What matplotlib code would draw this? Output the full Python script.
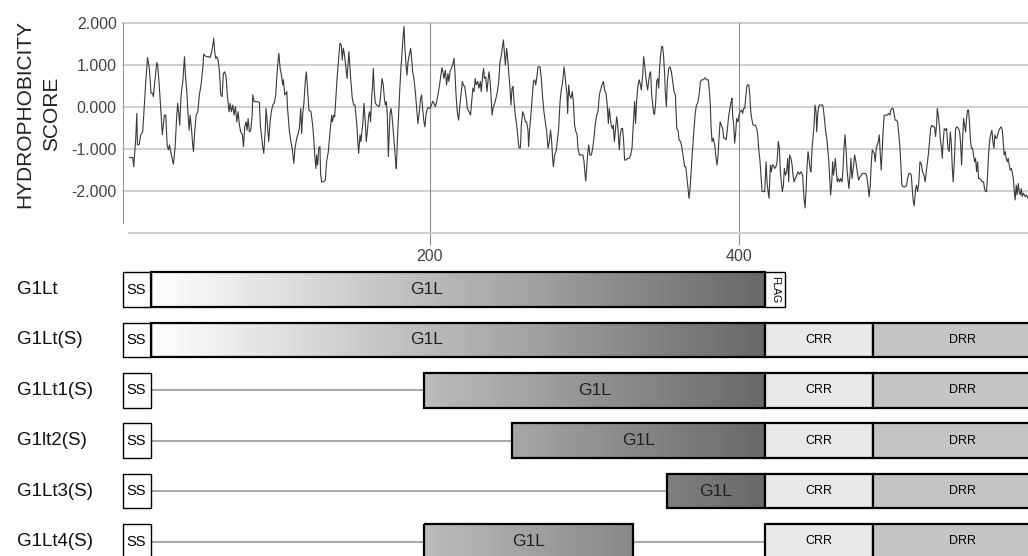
import numpy as np
import matplotlib.pyplot as plt
from matplotlib.patches import Rectangle
from matplotlib.colors import LinearSegmentedColormap
from matplotlib.transforms import blended_transform_factory

plt.rcParams['font.family'] = ['Liberation Sans', 'DejaVu Sans']
plt.rcParams['axes.unicode_minus'] = False

# hydrophobicity profile, (residue, score) pairs
hydro_a = [(6.0, -1.21), (8.2, -1.21), (8.8, -1.43), (10.1, -0.75), (10.8, -0.16), (11.2, -0.91), (12.3, -0.90),
           (13.3, -0.67), (14.6, -0.60), (15.5, -0.04), (16.6, 0.60), (17.7, 1.17), (18.9, 0.91), (20.0, 0.32),
           (20.9, 0.32), (21.5, 0.24), (22.4, 0.60), (23.7, 1.05), (24.3, 0.99), (25.4, 0.44), (26.5, -0.20),
           (27.3, -0.67), (28.6, -0.20), (29.5, -0.20), (30.4, -0.91), (31.2, -1.03), (31.9, -0.91), (32.7, -1.07),
           (33.8, -1.27), (34.4, -1.37), (35.5, -0.99), (36.6, -0.20), (37.2, 0.08), (37.9, -0.16), (38.5, -0.44),
           (39.4, 0.28), (40.5, 0.60), (41.6, 1.19), (42.2, 0.75), (43.1, 0.36), (43.9, -0.20), (44.6, -0.56),
           (45.2, -0.20), (46.1, -0.52), (46.9, -0.91), (47.4, -1.07), (48.2, -0.60), (49.1, -0.20), (50.2, -0.12),
           (51.2, 0.28), (52.3, 0.52), (53.4, 0.91), (54.0, 1.25), (54.9, 1.21), (56.0, 1.19), (57.1, 1.19),
           (58.1, 1.17), (59.0, 1.27), (59.9, 1.47), (60.5, 1.63), (61.1, 1.31), (61.8, 1.15), (62.4, 1.19),
           (63.3, 1.11), (64.2, 0.83), (65.0, 0.28), (65.9, 0.24), (66.7, 0.79), (67.6, 0.83), (68.5, 0.71),
           (69.1, 0.36), (69.8, 0.08), (70.4, -0.12), (71.1, 0.08), (71.9, -0.12), (72.8, 0.04), (73.6, -0.20),
           (74.5, 0.00), (75.4, -0.36), (76.2, -0.12), (77.1, -0.44), (77.9, -0.60), (79.0, -0.67), (79.7, -0.95),
           (80.5, -0.48), (81.4, -0.36), (82.0, -0.56), (82.7, -0.28), (83.5, -0.60), (84.4, -0.56), (85.3, -0.20),
           (85.7, 0.28), (86.6, 0.12), (88.7, 0.12), (90.0, 0.10), (90.6, -0.44), (91.5, -0.75), (92.1, -0.95),
           (92.8, -1.11), (93.7, -0.60), (94.3, -0.04), (95.2, -0.44), (96.0, -0.83), (96.9, -0.36), (97.7, -0.12),
           (98.6, 0.04), (99.5, 0.08), (100.5, 0.28), (101.6, 0.91), (102.5, 1.27), (103.4, 0.91), (104.2, 0.75),
           (105.1, 0.52), (105.5, 0.64), (106.4, 0.28), (107.7, 0.36), (108.1, 0.00), (108.7, -0.28), (109.4, -0.60),
           (110.2, -0.79), (111.3, -1.03), (112.2, -1.35), (113.0, -0.99), (114.1, -0.75), (115.0, -0.64),
           (115.8, -0.52), (116.7, -0.04)]
hydro_b = [(117.3, -0.64), (117.9, -0.20), (118.8, 0.12), (119.6, 0.60), (120.3, 0.83), (121.2, 0.36), (122.0, -0.08),
           (123.3, -0.12), (124.4, -0.44), (125.2, -0.83), (125.9, -1.23), (126.5, -1.47), (127.0, -1.15),
           (127.6, -1.39), (128.3, -0.99), (129.1, -0.95), (129.5, -1.59), (130.2, -1.79), (131.3, -1.79),
           (132.6, -1.75), (133.4, -1.31), (134.5, -1.07), (135.6, -0.60), (136.7, -0.20), (137.1, -0.36),
           (138.0, -0.20), (138.6, -0.24), (139.5, 0.28), (140.3, 0.75), (141.2, 1.15), (142.0, 1.51), (142.9, 1.47),
           (143.5, 1.11), (144.2, 1.39), (144.8, 1.27), (145.7, 0.99), (146.6, 0.67), (147.2, 0.99), (147.8, 1.31),
           (148.5, 0.91), (149.1, 0.60), (150.0, 0.20), (150.9, 0.04), (151.7, 0.04), (152.8, -0.36), (153.7, -0.91),
           (154.1, -1.11), (155.0, -0.67), (155.6, -0.83), (156.2, -0.60), (156.9, -0.36), (157.5, 0.08),
           (158.4, -0.36), (159.0, -0.83), (159.9, -0.52), (160.6, -0.20), (161.2, -0.12), (161.8, -0.36),
           (162.5, 0.20), (163.1, 0.52), (163.6, 0.91), (164.2, 0.36), (164.9, 0.08), (165.9, 0.04), (167.0, 0.00),
           (167.7, 0.04), (168.3, 0.28), (169.2, 0.67), (170.0, 0.52), (170.7, 0.20), (171.3, 0.04), (172.0, 0.12),
           (172.6, -0.20), (173.3, -1.19), (173.9, -0.60), (174.3, -0.20), (175.0, -0.04), (175.6, -0.20),
           (176.5, -0.60), (177.3, -0.99), (178.0, -1.31), (178.4, -1.47), (179.1, -0.83), (179.9, -0.20),
           (180.6, 0.36), (181.4, 0.91), (182.3, 1.39), (182.9, 1.71), (183.4, 1.91), (184.0, 1.39), (184.7, 0.99),
           (185.3, 0.75), (186.0, 1.07), (186.8, 1.23), (187.7, 1.39), (188.3, 1.15), (189.0, 0.83), (189.8, 0.67),
           (190.7, 0.36), (191.6, -0.04), (192.4, -0.40), (193.3, -0.12), (194.1, 0.20), (194.8, 0.28), (195.4, -0.04),
           (196.3, -0.36), (196.9, -0.48), (197.6, -0.20), (198.2, -0.08), (198.9, -0.02), (200.2, -0.04),
           (201.2, 0.04), (201.9, 0.13), (202.8, 0.08), (203.6, 0.00), (204.5, 0.12), (205.3, 0.28), (206.2, 0.48),
           (207.1, 0.71), (207.9, 0.93), (208.6, 0.83), (209.2, 0.67), (210.1, 0.87), (210.9, 0.52), (211.8, 0.79),
           (212.4, 0.60), (213.1, 0.83), (213.9, 0.91), (214.8, 0.99), (215.7, 1.15), (216.3, 0.83), (217.0, 0.28),
           (217.8, -0.12), (218.7, -0.32), (219.3, -0.04), (220.2, 0.28), (221.1, 0.60), (221.7, 0.52), (222.6, 0.48),
           (223.4, 0.28), (224.3, -0.04), (225.4, -0.12), (226.4, -0.20), (227.1, 0.12), (227.9, 0.44), (228.6, 0.36),
           (229.4, 0.67), (230.1, 0.52), (231.0, 0.60), (231.8, 0.44), (232.7, 0.60), (233.3, 0.36), (234.2, 0.75),
           (234.8, 0.91)]
hydro_c = [(235.3, 0.67), (236.2, 0.71), (237.0, 0.36), (237.7, 0.64), (238.3, 0.83), (239.0, 0.60), (239.6, 0.28),
           (240.3, -0.20), (241.1, 0.00), (242.0, 0.08), (242.8, 0.20), (243.7, 0.36), (244.6, 0.60), (245.4, 1.07),
           (246.3, 1.23), (246.9, 1.39), (247.6, 1.59), (248.2, 1.31), (248.9, 0.99), (249.7, 1.39), (250.4, 1.15),
           (251.0, 0.83), (251.9, 0.44), (252.5, 0.04), (253.2, 0.44), (253.8, 0.48), (254.5, 0.12), (255.3, -0.20),
           (256.2, -0.44), (257.0, -0.75), (257.7, -0.98), (258.6, -0.98), (259.2, -0.44), (260.1, -0.12),
           (260.9, -0.20), (261.8, -0.36), (262.6, -0.36), (263.5, -0.56), (263.9, -0.95), (264.6, -0.52),
           (265.2, -0.28), (266.1, 0.16), (267.0, 0.60), (267.8, 0.64), (268.5, 0.52), (269.1, 0.67), (270.0, 0.95),
           (271.3, 0.95), (272.1, 0.67), (273.0, 0.20), (273.8, -0.12), (274.7, -0.36), (275.6, -0.60), (276.4, -0.99),
           (277.3, -0.83), (278.1, -0.56), (278.8, -0.83), (279.4, -1.23), (279.9, -1.43), (280.7, -1.15),
           (281.6, -1.07), (282.4, -0.83), (283.3, -0.52), (284.2, 0.12), (285.0, 0.40), (285.9, 0.60), (286.8, 0.95),
           (287.4, 0.75), (288.0, 0.52), (288.7, 0.28), (289.1, -0.16), (289.8, 0.52), (290.4, 0.28), (291.3, 0.20),
           (292.1, 0.36), (292.8, 0.12), (293.6, -0.44), (294.5, -0.60), (295.2, -0.67), (295.8, -0.99),
           (296.7, -1.15), (297.7, -1.15), (299.0, -1.15), (299.7, -1.31), (300.3, -1.59), (300.8, -1.77),
           (301.4, -1.47), (302.0, -1.15), (302.7, -0.91), (303.5, -1.15), (304.4, -1.15), (305.3, -0.99),
           (306.1, -0.75), (307.0, -0.40), (307.9, -0.20), (308.7, -0.12), (309.6, 0.28), (310.4, 0.40), (311.3, 0.52),
           (312.2, 0.60), (313.0, 0.40), (313.9, 0.32), (314.7, 0.04), (315.4, -0.40), (316.0, -0.04), (316.7, -0.28),
           (317.3, -0.44), (318.0, -0.52), (318.6, -0.44), (319.3, -0.83), (319.9, -0.60), (320.8, -0.24),
           (321.4, -0.40), (322.1, -0.83), (322.5, -1.03), (323.1, -0.67), (323.8, -0.52), (324.6, -0.52),
           (325.3, -0.83), (325.9, -1.27), (326.8, -1.27), (327.9, -1.23), (329.0, -1.23), (329.8, -1.15),
           (330.7, -0.99), (331.5, -0.44), (332.4, 0.12), (333.0, -0.40), (333.7, 0.16), (334.6, 0.52), (335.4, 0.64),
           (336.1, 0.52), (336.7, 0.40), (337.6, 0.75), (338.2, 1.19), (338.9, 0.99), (339.5, 0.75), (340.2, 0.52),
           (340.8, 0.40), (341.4, 0.60), (342.1, 0.79), (342.7, 0.83), (343.4, 0.28), (344.0, 0.08), (344.7, -0.16),
           (345.3, -0.18), (346.0, 0.12), (346.6, 0.60), (347.3, 0.67), (347.9, 0.44), (348.5, 0.91), (349.2, 1.23),
           (349.8, 1.43), (350.5, 1.43), (351.1, 1.19), (351.8, 0.75)]
hydro_d = [(352.2, 0.36), (352.9, 0.00), (353.5, 0.60), (354.4, 0.91), (355.3, 0.95), (356.1, 0.83), (357.0, 0.60),
           (357.8, 0.36), (358.7, 0.28), (359.6, -0.52), (360.4, -0.56), (361.1, -0.79), (362.1, -0.83), (363.0, -0.99),
           (363.9, -1.23), (364.7, -1.43), (365.4, -1.43), (366.0, -1.63), (366.9, -1.95), (367.5, -2.18),
           (368.2, -1.95), (369.0, -1.47), (369.7, -1.07), (370.5, -0.67), (371.4, -0.20), (372.3, 0.04), (373.1, 0.08),
           (374.0, 0.28), (374.9, 0.60), (375.7, 0.64), (376.8, 0.64), (377.9, 0.69), (378.9, 0.64), (380.0, 0.64),
           (380.7, 0.36), (381.3, 0.04), (381.7, -0.44), (382.4, -0.83), (383.2, -0.75), (384.1, -0.91), (385.0, -1.23),
           (385.6, -1.39), (386.3, -1.15), (386.9, -0.75), (387.6, -0.36), (388.4, -0.44), (389.3, -0.52),
           (389.9, -0.75), (390.8, -0.75), (391.6, -0.79), (392.3, -0.52), (393.2, -0.20), (394.0, -0.04), (394.7, 0.12),
           (395.3, 0.20), (395.7, -0.20), (396.4, -0.44), (397.0, -0.87), (397.7, -0.60), (398.3, -0.28), (399.2, -0.36),
           (399.8, -0.20), (400.5, -0.12), (401.5, -0.08), (402.2, -0.16), (402.8, -0.04), (403.5, -0.04), (404.1, 0.20),
           (404.8, 0.48), (405.4, 0.52), (406.1, 0.52), (406.7, 0.32), (407.4, -0.12), (408.0, -0.28), (408.9, -0.44),
           (409.7, -0.44), (410.4, -0.44), (411.2, -0.52), (411.9, -0.67), (412.5, -0.99), (413.4, -1.31),
           (414.0, -1.63), (414.7, -2.02), (415.5, -2.02), (416.4, -2.02), (417.3, -1.31), (417.9, -1.79),
           (418.6, -2.02), (419.2, -2.18), (420.1, -1.39), (420.7, -1.55), (421.4, -1.39), (422.0, -1.39),
           (422.9, -1.47), (423.7, -1.43), (424.4, -1.31), (425.2, -0.83), (425.9, -0.99), (426.5, -1.55),
           (427.2, -1.79), (427.8, -2.02), (428.5, -1.87), (429.1, -1.47), (429.8, -1.63), (430.6, -1.55),
           (431.3, -1.23), (431.9, -1.79), (432.5, -1.15), (433.4, -1.23), (434.1, -1.39), (434.7, -1.63),
           (435.4, -1.79), (436.2, -1.71), (437.1, -1.63), (437.9, -1.55), (438.8, -1.61), (439.9, -1.55),
           (440.9, -1.63), (441.8, -2.18), (442.5, -2.41), (443.1, -2.02), (443.7, -1.47), (444.4, -1.07),
           (445.0, -1.23), (445.7, -1.47), (446.3, -1.55), (447.0, -0.99), (447.6, -0.75), (448.3, -0.44), (448.9, 0.04),
           (449.6, -0.12), (450.0, -0.60), (450.6, -0.20), (451.3, 0.00), (451.9, 0.04), (453.0, 0.04), (453.9, 0.04),
           (454.5, -0.12), (455.2, -0.36), (455.8, -0.60), (456.5, -0.75), (457.1, -0.99), (457.7, -1.23),
           (458.4, -1.71), (459.0, -2.10), (459.7, -1.79), (460.3, -1.31), (460.8, -1.63), (461.4, -1.47),
           (462.0, -1.23), (462.7, -1.55), (463.3, -1.79), (464.0, -1.71), (464.8, -1.79), (465.5, -1.71),
           (466.4, -1.79), (467.0, -1.47), (467.6, -0.99), (468.3, -0.67)]
hydro_e = [(468.9, -0.99), (469.7, -1.55), (470.8, -1.95), (471.5, -1.63), (472.1, -1.23), (472.8, -1.71),
           (473.6, -1.47), (474.5, -1.15), (475.3, -1.31), (476.2, -1.55), (477.1, -1.75), (477.9, -1.67),
           (478.8, -1.63), (479.6, -1.59), (481.4, -1.59), (482.2, -1.63), (483.1, -1.87), (483.9, -2.14),
           (484.6, -1.87), (485.2, -1.39), (485.9, -1.03), (486.5, -1.07), (487.2, -1.11), (487.8, -1.31),
           (488.5, -0.99), (489.1, -0.91), (489.8, -0.83), (490.4, -0.67), (491.1, -1.15), (491.7, -1.51),
           (492.3, -1.07), (493.0, -0.52), (493.6, -0.20), (494.5, -0.20), (495.6, -0.20), (496.4, -0.16),
           (497.3, -0.20), (497.9, -0.08), (498.6, -0.04), (499.4, -0.04), (500.1, -0.20), (500.7, -0.32),
           (501.6, -0.32), (502.2, -0.36), (502.9, -0.60), (503.8, -0.99), (504.4, -1.39), (505.0, -1.87),
           (505.9, -1.91), (507.0, -1.91), (508.1, -1.87), (508.7, -1.71), (509.6, -1.59), (510.4, -1.59),
           (511.1, -1.63), (511.7, -1.95), (512.4, -2.26), (513.0, -2.36), (513.9, -1.95), (514.5, -1.87),
           (515.2, -2.02), (516.0, -1.79), (516.7, -1.31), (517.5, -1.35), (518.4, -1.55), (519.3, -1.63),
           (520.1, -1.79), (521.0, -1.47), (521.6, -1.31), (522.3, -1.07), (522.9, -0.83), (523.6, -0.52),
           (524.4, -0.44), (525.3, -0.48), (526.1, -0.48), (526.8, -0.71), (527.4, -0.44), (527.9, -0.04),
           (528.5, -0.20), (529.2, -0.44), (530.0, -0.83), (530.7, -0.99), (531.1, -1.23), (531.7, -0.83),
           (532.4, -0.52), (533.3, -0.56), (533.9, -0.52), (534.8, -0.99), (535.6, -1.07), (536.3, -0.60),
           (536.9, -0.83), (537.6, -1.47), (538.2, -1.79), (539.1, -1.15), (539.7, -0.52), (540.6, -0.48),
           (541.6, -0.52), (542.3, -0.60), (542.9, -0.83), (543.6, -1.39), (544.2, -0.83), (544.9, -0.28),
           (545.5, -0.44), (546.2, -0.60), (546.8, -0.28), (547.5, -0.08), (548.1, -0.08), (548.8, -0.44),
           (549.4, -0.83), (550.0, -0.99), (550.7, -0.99), (551.3, -1.15), (552.0, -1.31), (552.6, -1.23),
           (553.3, -1.55), (553.9, -1.31), (554.6, -1.71), (555.4, -1.71), (556.3, -1.75), (556.9, -1.79),
           (557.8, -1.79), (558.4, -1.95), (559.1, -2.02), (559.7, -2.02), (560.4, -1.63), (561.0, -1.15),
           (561.7, -0.83), (562.3, -0.67), (563.2, -0.56), (563.8, -0.83), (564.5, -0.99), (565.1, -0.67),
           (565.8, -0.75), (566.4, -0.75), (567.1, -0.64), (567.7, -0.56), (568.3, -0.52), (569.2, -0.48),
           (569.9, -0.56), (570.5, -0.83), (571.1, -1.15), (571.8, -1.07), (572.4, -1.23), (573.1, -1.31),
           (573.7, -1.23), (574.4, -1.39), (575.0, -1.51), (575.7, -1.47), (576.3, -1.55), (577.0, -1.71),
           (577.6, -1.99), (578.2, -2.22), (578.9, -1.87), (579.5, -2.10), (580.2, -1.83), (580.8, -2.02),
           (581.5, -2.10), (582.1, -1.95), (582.8, -2.14), (583.4, -2.06), (584.1, -2.10), (584.7, -2.14),
           (585.6, -2.10), (586.2, -2.17)]

score_ticks = [2, 1, 0, -1, -2]
score_labels = ['2.000', '1.000', '0.000', '-1.000', '-2.000']
residue_ticks = [200, 400]

# construct maps (residue coordinates)
constructs = ['G1Lt', 'G1Lt(S)', 'G1Lt1(S)', 'G1lt2(S)', 'G1Lt3(S)', 'G1Lt4(S)']
ss_span = (2, 20)
g1l_full = (20, 416.5)
g1l_spans = [(20, 416.5), (20, 416.5), (196, 416.5), (253, 416.5), (353, 416.5), (196, 331.5)]
g1l_label_x = [198, 198, None, None, None, None]
flag_span = (416.5, 429.5)
crr_span = (416.5, 486.5)
drr_span = (486.5, 603)
has_flag = [True, False, False, False, False, False]

profile = hydro_a + hydro_b + hydro_c + hydro_d + hydro_e
residue = [p[0] for p in profile]
score = [p[1] for p in profile]

W, H = 1028, 556
fig = plt.figure(figsize=(W / 100, H / 100), dpi=100)
xlim = (1.87, 586.5)

# ---- hydrophobicity plot ----
ax1 = fig.add_axes([123 / W, 1 - 232.7 / H, 905 / W, 210 / H])
ax1.set_xlim(xlim)
ax1.set_ylim(-3, 2)
for v in score_ticks:
    ax1.axhline(v, color='#cfcfcf', lw=1.4, zorder=1, clip_on=False)
for t in residue_ticks:
    ax1.axvline(t, color='#8f8f8f', lw=0.8, zorder=1)
ax1.plot(residue, score, color='#3a3a3a', lw=0.8, zorder=3, clip_on=False)

for s in ['top', 'right']:
    ax1.spines[s].set_visible(False)
ax1.spines['left'].set_bounds(-2.76, 2)
ax1.spines['left'].set_color('#9a9a9a')
ax1.spines['left'].set_linewidth(0.8)
ax1.spines['bottom'].set_bounds(5.7, xlim[1])
ax1.spines['bottom'].set_color('#cfcfcf')
ax1.spines['bottom'].set_linewidth(1.4)

ax1.set_yticks(score_ticks)
ax1.set_yticklabels(score_labels)
ax1.tick_params(axis='y', length=0, pad=4.5, labelsize=11.5, labelcolor='#444444')
ax1.set_xticks(residue_ticks)
ax1.set_xticklabels([str(t) for t in residue_ticks])
ax1.tick_params(axis='x', direction='out', length=8.6, width=0.8, color='#8f8f8f',
                pad=3, labelsize=11.5, labelcolor='#444444')
fig.text(38.5 / W, 1 - 114 / H, 'HYDROPHOBICITY\nSCORE', rotation=90, ha='center', va='center',
         multialignment='center', fontsize=15, linespacing=1.5, color='#222222')

# ---- construct maps ----
ax2 = fig.add_axes([123 / W, 0, 905 / W, 296 / H])
ax2.set_xlim(xlim)
ax2.axis('off')
bar_h = 0.683
shade = LinearSegmentedColormap.from_list('g1l', ['#ffffff', '#686868'])
row_tf = blended_transform_factory(fig.transFigure, ax2.transData)


def box(x0, x1, y, fc='none', lw=1.6, z=4):
    ax2.add_patch(Rectangle((x0, y - bar_h / 2), x1 - x0, bar_h, facecolor=fc,
                            edgecolor='black', lw=lw, zorder=z, clip_on=False))


for i, name in enumerate(constructs):
    y = i
    ax2.text(17 / W, y, name, transform=row_tf, ha='left', va='center', fontsize=13.5, color='#111111')

    a, b = g1l_spans[i]
    # connector from signal sequence to the first domain
    ax2.plot([ss_span[1], a], [y, y], color='#a8a8a8', lw=1.4, zorder=2, clip_on=False)
    box(ss_span[0], ss_span[1], y, fc='white', lw=1.0)
    ax2.text(sum(ss_span) / 2 - 0.6, y, 'SS', ha='center', va='center', fontsize=10.5, zorder=6)

    # G1L shaded on one gradient along the whole sequence
    fa = (a - g1l_full[0]) / (g1l_full[1] - g1l_full[0])
    fb = (b - g1l_full[0]) / (g1l_full[1] - g1l_full[0])
    ax2.imshow(np.linspace(fa, fb, 256)[None, :], cmap=shade, vmin=0, vmax=1, aspect='auto',
               extent=(a, b, y - bar_h / 2, y + bar_h / 2), interpolation='bilinear', zorder=3)
    box(a, b, y)
    lx = g1l_label_x[i] if g1l_label_x[i] is not None else (a + b) / 2
    ax2.text(lx, y, 'G1L', ha='center', va='center', fontsize=12.5, color='#222222', zorder=6)

    if has_flag[i]:
        box(flag_span[0], flag_span[1], y, fc='white', lw=1.0)
        ax2.text(sum(flag_span) / 2, y, 'FLAG', rotation=-90, ha='center', va='center', fontsize=7.5, zorder=6)
    else:
        if b < crr_span[0]:
            ax2.plot([b, crr_span[0]], [y, y], color='#a8a8a8', lw=1.4, zorder=2)
        box(crr_span[0], crr_span[1], y, fc='#e8e8e8')
        ax2.text(sum(crr_span) / 2, y, 'CRR', ha='center', va='center', fontsize=9, zorder=6)
        box(drr_span[0], drr_span[1], y, fc='#c4c4c4')
        ax2.text(544.5, y, 'DRR', ha='center', va='center', fontsize=9, zorder=6)

ax2.set_xlim(xlim)
ax2.set_ylim((556 - 289.5) / 50.4, (260 - 289.5) / 50.4)

fig.savefig('out.png', dpi=100)
